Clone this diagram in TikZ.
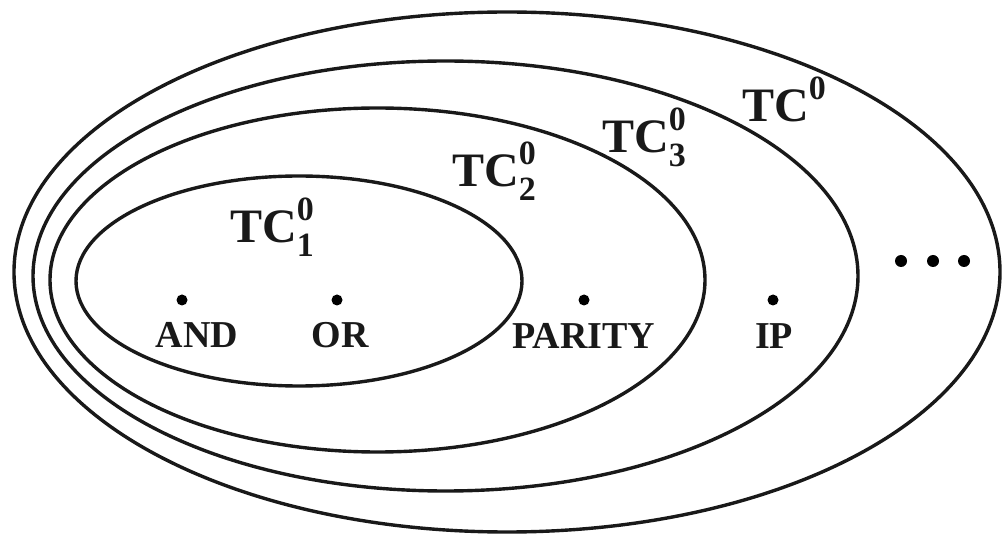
\documentclass[tikz,border=0pt]{standalone}
\usepackage{fontspec}
\setmainfont{Liberation Serif}
\usetikzlibrary{shapes.geometric}
\newcommand\tcfont{\bfseries\fontsize{48}{48}\selectfont}
\newcommand\scfont{\bfseries\fontsize{34}{34}\selectfont}
\newcommand\lbfont{\bfseries\fontsize{38}{38}\selectfont}
\newcommand\tclab[1]{{\tcfont TC}\makebox[0pt][l]{\raisebox{22pt}{\scfont 0}}\raisebox{-14pt}{\scfont #1}}
\tikzset{
  ring/.style={draw=black!90, line width=3.4pt, ellipse, inner sep=0pt, outer sep=0pt},
  pt/.style={circle, fill=black, inner sep=0pt, minimum size=11pt},
  bigpt/.style={circle, fill=black, inner sep=0pt, minimum size=12pt},
  lab/.style={inner sep=0pt, anchor=base, text=black!90, font=\lbfont},
  cls/.style={inner sep=0pt, anchor=base west, text=black!90}
}
\begin{document}
\begin{tikzpicture}[x=1pt, y=-1pt]
\useasboundingbox (0,0) rectangle (1002,534);
\node[ring, minimum width=986pt, minimum height=520pt] (e0) at (507,272) {};
\node[ring, minimum width=825pt, minimum height=430pt] (e3) at (445.5,276) {};
\node[ring, minimum width=655pt, minimum height=344pt] (e2) at (377.5,280) {};
\node[ring, minimum width=446pt, minimum height=210pt] (e1) at (299,281) {};
\node[cls] (l1) at (230,243) {\tclab{1}};
\node[cls] (l2) at (452,187) {\tclab{2}};
\node[cls] (l3) at (602,153) {\tclab{3}};
\node[cls] (l0) at (742,122) {{\tcfont TC}\raisebox{22pt}{\scfont 0}};
\node[pt] (dand) at (182,300) {};
\node[pt] (dor) at (337,300) {};
\node[pt] (dpar) at (584,300) {};
\node[pt] (dip) at (773,300) {};
\node[lab] (tand) at (197,348) {AND};
\node[lab] (tor) at (340,348) {OR};
\node[lab] (tpar) at (584,349) {PARITY};
\node[lab] (tip) at (774,349) {IP};
\node[bigpt] (d1) at (901,261) {};
\node[bigpt] (d2) at (933,261) {};
\node[bigpt] (d3) at (964,261) {};
\end{tikzpicture}
\end{document}
